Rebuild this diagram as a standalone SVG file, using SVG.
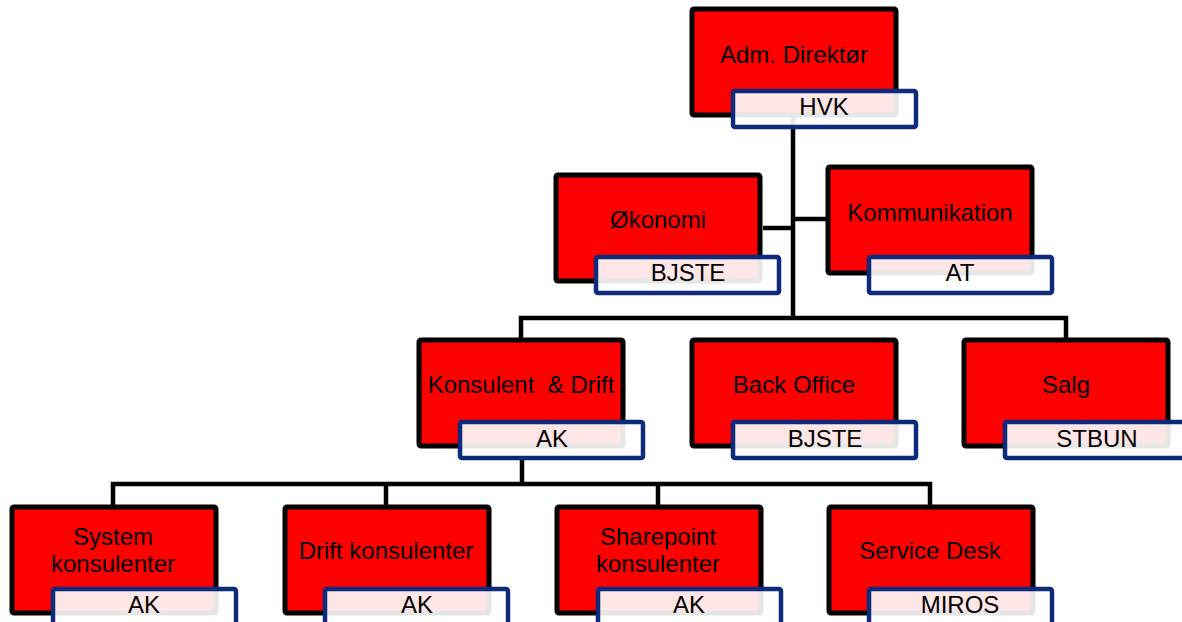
<svg xmlns="http://www.w3.org/2000/svg" width="1182" height="622" viewBox="0 0 1182 622">
<style>
.box{fill:#ff0000;stroke:#000;stroke-width:5}
.lbl{fill:#fff;fill-opacity:0.9;stroke:#0d2b7a;stroke-width:4.5}
.t{font-family:"Liberation Sans",Arial,sans-serif;font-size:24px;fill:#000;text-anchor:middle;white-space:pre}
.c{fill:none;stroke:#000;stroke-width:4.5;stroke-linejoin:miter}
</style>
<rect width="1182" height="622" fill="#fff"/>
<g id="connectors">
<path class="c" d="M793,117 V318"/>
<path class="c" d="M763,228 H793"/>
<path class="c" d="M793,219 H826"/>
<path class="c" d="M521,338 V318 H1066 V338"/>
<path class="c" d="M522,460 V484"/>
<path class="c" d="M113,505 V484 H930 V505"/>
<path class="c" d="M386,484 V505"/>
<path class="c" d="M658,484 V505"/>
</g>
<g id="n-adm">
<rect class="box" x="692" y="9" width="204" height="106" rx="2"/>
<text class="t" x="794" y="63">Adm. Direktør</text>
<rect class="lbl" x="733" y="91" width="183" height="36" rx="2"/>
<text class="t" x="824" y="115">HVK</text>
</g>
<g id="n-okonomi">
<rect class="box" x="556" y="175" width="204" height="106" rx="2"/>
<text class="t" x="658" y="228">Økonomi</text>
<rect class="lbl" x="596" y="257" width="183" height="36" rx="2"/>
<text class="t" x="688" y="281">BJSTE</text>
</g>
<g id="n-kommunikation">
<rect class="box" x="828" y="167" width="204" height="106" rx="2"/>
<text class="t" x="930" y="221">Kommunikation</text>
<rect class="lbl" x="869" y="257" width="183" height="36" rx="2"/>
<text class="t" x="960" y="281">AT</text>
</g>
<g id="n-konsulent">
<rect class="box" x="419" y="340" width="204" height="106" rx="2"/>
<text class="t" x="521" y="393">Konsulent  &amp; Drift</text>
<rect class="lbl" x="460" y="422" width="183" height="36" rx="2"/>
<text class="t" x="552" y="447">AK</text>
</g>
<g id="n-backoffice">
<rect class="box" x="692" y="340" width="204" height="106" rx="2"/>
<text class="t" x="794" y="393">Back Office</text>
<rect class="lbl" x="733" y="422" width="183" height="36" rx="2"/>
<text class="t" x="825" y="447">BJSTE</text>
</g>
<g id="n-salg">
<rect class="box" x="964" y="340" width="204" height="106" rx="2"/>
<text class="t" x="1066" y="393">Salg</text>
<rect class="lbl" x="1005" y="422" width="183" height="36" rx="2"/>
<text class="t" x="1097" y="447">STBUN</text>
</g>
<g id="n-system">
<rect class="box" x="12" y="507" width="204" height="106" rx="2"/>
<text class="t" x="113" y="545">System</text>
<text class="t" x="113" y="572">konsulenter</text>
<rect class="lbl" x="53" y="589" width="183" height="36" rx="2"/>
<text class="t" x="144" y="613">AK</text>
</g>
<g id="n-drift">
<rect class="box" x="285" y="507" width="204" height="106" rx="2"/>
<text class="t" x="386" y="559">Drift konsulenter</text>
<rect class="lbl" x="325" y="589" width="183" height="36" rx="2"/>
<text class="t" x="417" y="613">AK</text>
</g>
<g id="n-sharepoint">
<rect class="box" x="557" y="507" width="204" height="106" rx="2"/>
<text class="t" x="658" y="545">Sharepoint</text>
<text class="t" x="658" y="572">konsulenter</text>
<rect class="lbl" x="598" y="589" width="183" height="36" rx="2"/>
<text class="t" x="689" y="613">AK</text>
</g>
<g id="n-servicedesk">
<rect class="box" x="829" y="507" width="204" height="106" rx="2"/>
<text class="t" x="930" y="559">Service Desk</text>
<rect class="lbl" x="869" y="589" width="183" height="36" rx="2"/>
<text class="t" x="960" y="613">MIROS</text>
</g>
</svg>
